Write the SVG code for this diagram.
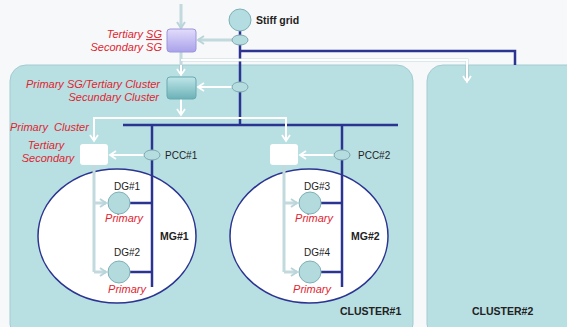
<svg xmlns="http://www.w3.org/2000/svg" width="567" height="327" viewBox="0 0 567 327">
<defs>
<style>
.red{font-family:"Liberation Sans",Arial,sans-serif;font-size:11px;font-style:italic;fill:#df2530}
.lbl{font-family:"Liberation Sans",Arial,sans-serif;font-size:10px;fill:#222}
.bold{font-family:"Liberation Sans",Arial,sans-serif;font-size:10.5px;font-weight:bold;fill:#222}
.bus{stroke:#2b3591;stroke-width:2.5;fill:none}
.lt{stroke:#c2d9dd;stroke-width:3;fill:none}
.wh{stroke:#ffffff;stroke-width:2;fill:none}
.whe{stroke:#a9c9ce;stroke-width:3.5;fill:none}
.cluster{fill:#b8dfe2;stroke:#a3ccd1;stroke-width:1}
.pcc{fill:#b5dde0;stroke:#7fa9b0;stroke-width:1}
.dg{fill:#b3dbde;stroke:#7fb0b6;stroke-width:1}
.mg{fill:#ffffff;stroke:#2b3591;stroke-width:1.5}
</style>
<linearGradient id="gp" x1="0" y1="0" x2="0" y2="1">
<stop offset="0" stop-color="#e2dcfb"/><stop offset="1" stop-color="#a9a2ea"/>
</linearGradient>
<linearGradient id="gt" x1="0" y1="0" x2="0" y2="1">
<stop offset="0" stop-color="#bfe6e8"/><stop offset="1" stop-color="#6bb1b8"/>
</linearGradient>
<marker id="aL" markerUnits="userSpaceOnUse" markerWidth="12" markerHeight="12" refX="8" refY="5" orient="auto">
<polyline points="2,1 8,5 2,9" fill="none" stroke="#b9d5da" stroke-width="2"/>
</marker>
<marker id="aW" markerUnits="userSpaceOnUse" markerWidth="12" markerHeight="12" refX="8" refY="5" orient="auto">
<polyline points="2,1 8,5 2,9" fill="none" stroke="#ffffff" stroke-width="1.8"/>
</marker>
</defs>
<rect x="0" y="0" width="567" height="327" fill="#f7f8f9"/>

<g id="cluster1">
<rect class="cluster" x="10" y="65" width="403" height="275" rx="16"/>
<text class="bold" x="340" y="315">CLUSTER#1</text>
</g>
<g id="cluster2">
<rect class="cluster" x="427" y="65" width="160" height="275" rx="16"/>
<text class="bold" x="472" y="315">CLUSTER#2</text>
</g>

<g id="mg1">
<ellipse class="mg" cx="117" cy="236" rx="79" ry="67"/>
<text class="bold" x="160" y="240">MG#1</text>
</g>
<g id="mg2">
<ellipse class="mg" cx="309" cy="236" rx="79" ry="67"/>
<text class="bold" x="351" y="240">MG#2</text>
</g>

<g id="connectors">
<path class="bus" d="M240,30 V125"/>
<path class="bus" d="M240,51 H515 V65"/>
<path class="bus" d="M123,125 H398"/>
<path class="bus" d="M152,125 V287"/>
<path class="bus" d="M342,125 V287"/>
<path class="bus" d="M130,203 H152 M130,272 H152"/>
<path class="bus" d="M321,203 H342 M321,272 H342"/>
<path class="lt" d="M181,4 V28" marker-end="url(#aL)"/>
<path class="lt" d="M232,40 H198" marker-end="url(#aL)"/>
<path class="lt" d="M181,52 V65"/>
<path class="lt" d="M181,60 H467 V65"/>
<path class="whe" d="M181,65 V75 M467,65 V82"/>
<path class="wh" d="M181,60 H467 V82" marker-end="url(#aW)"/>
<path class="wh" d="M181,65 V75" marker-end="url(#aW)"/>
<path class="wh" d="M232,87 H198" marker-end="url(#aW)"/>
<path class="wh" d="M181,99 V115" marker-end="url(#aW)"/>
<path class="wh" d="M94,141 V118 H286 V141" marker-end="url(#aW)"/>
<path class="wh" d="M94,118 V141" marker-end="url(#aW)"/>
<path class="wh" d="M144,155 H110" marker-end="url(#aW)"/>
<path class="wh" d="M334,155 H300" marker-end="url(#aW)"/>
<path class="lt" d="M94,165 V272" stroke-width="2.5"/>
<path class="lt" d="M94,203 H106" stroke-width="2.5" marker-end="url(#aL)"/>
<path class="lt" d="M94,272 H106" stroke-width="2.5" marker-end="url(#aL)"/>
<path class="lt" d="M284,165 V272" stroke-width="2.5"/>
<path class="lt" d="M284,203 H297" stroke-width="2.5" marker-end="url(#aL)"/>
<path class="lt" d="M284,272 H297" stroke-width="2.5" marker-end="url(#aL)"/>
</g>

<g id="stiffgrid">
<circle cx="240" cy="20" r="11" fill="#b3dde0" stroke="#7fb0b6" stroke-width="1"/>
<text class="bold" x="256" y="24" font-size="10px">Stiff grid</text>
</g>
<g id="sg-meter"><ellipse class="pcc" cx="240" cy="40" rx="8" ry="5"/></g>
<g id="cl-meter"><ellipse class="pcc" cx="240" cy="87" rx="8" ry="5"/></g>
<g id="pcc1">
<ellipse class="pcc" cx="152" cy="155" rx="8" ry="5"/>
<text class="lbl" x="165" y="159">PCC#1</text>
</g>
<g id="pcc2">
<ellipse class="pcc" cx="342" cy="155" rx="8" ry="5"/>
<text class="lbl" x="358" y="159">PCC#2</text>
</g>

<g id="sg-ctrl">
<rect x="167" y="29" width="29" height="23" rx="3" fill="url(#gp)" stroke="#9c96dc" stroke-width="1"/>
<text class="red" x="162" y="38" text-anchor="end">Tertiary <tspan text-decoration="underline">SG</tspan></text>
<text class="red" x="162" y="51" text-anchor="end">Secondary SG</text>
</g>
<g id="cluster-ctrl">
<rect x="167" y="77" width="29" height="22" rx="3" fill="url(#gt)" stroke="#6aa9b0" stroke-width="1"/>
<text class="red" x="160" y="88" text-anchor="end">Primary SG/Tertiary Cluster</text>
<text class="red" x="159" y="101" text-anchor="end">Secundary Cluster</text>
<text class="red" x="10" y="131" xml:space="preserve">Primary  Cluster</text>
</g>
<g id="mg1-ctrl">
<rect x="80" y="144" width="28" height="21" rx="3" fill="#ffffff"/>
<text class="red" x="46" y="149" text-anchor="middle">Tertiary</text>
<text class="red" x="48" y="162" text-anchor="middle">Secondary</text>
</g>
<g id="mg2-ctrl">
<rect x="270" y="144" width="28" height="21" rx="3" fill="#ffffff"/>
</g>

<g id="dg1">
<circle class="dg" cx="119" cy="203" r="11"/>
<text class="lbl" x="127" y="190" text-anchor="middle">DG#1</text>
<text class="red" x="124" y="222" text-anchor="middle">Primary</text>
</g>
<g id="dg2">
<circle class="dg" cx="119" cy="272" r="11"/>
<text class="lbl" x="127" y="256" text-anchor="middle">DG#2</text>
<text class="red" x="127" y="293" text-anchor="middle">Primary</text>
</g>
<g id="dg3">
<circle class="dg" cx="310" cy="203" r="11"/>
<text class="lbl" x="317" y="190" text-anchor="middle">DG#3</text>
<text class="red" x="314" y="222" text-anchor="middle">Primary</text>
</g>
<g id="dg4">
<circle class="dg" cx="310" cy="272" r="11"/>
<text class="lbl" x="317" y="256" text-anchor="middle">DG#4</text>
<text class="red" x="312" y="293" text-anchor="middle">Primary</text>
</g>
</svg>
